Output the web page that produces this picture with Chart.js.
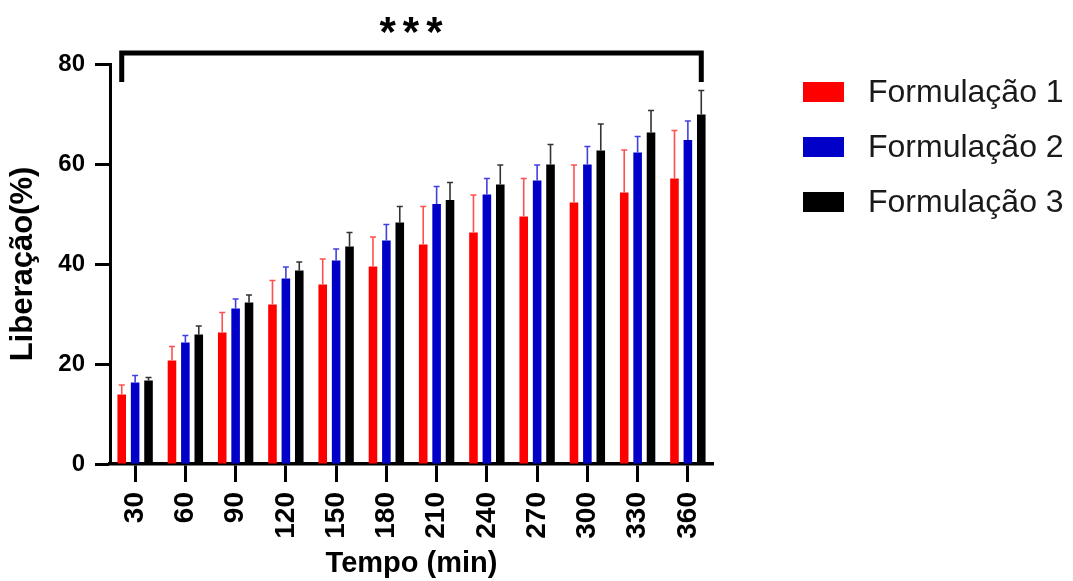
<!DOCTYPE html>
<html>
<head>
<meta charset="utf-8">
<script src="https://cdn.jsdelivr.net/npm/chart.js@4"></script>
<style>
  body { margin: 0; background: #fff; }
  canvas { display: block; }
</style>
</head>
<body>
<canvas id="chart" width="1073" height="581"></canvas>
<script>
// tempo (min)
const tempos = ["30","60","90","120","150","180","210","240","270","300","330","360"];

const seriesNames = ["Formulação 1", "Formulação 2", "Formulação 3"];
const seriesColors = ["#ff0000", "#0000c8", "#000000"];

// liberação media (%)
const form1 = [13.9, 20.7, 26.3, 31.9, 35.9, 39.5, 43.9, 46.3, 49.5, 52.3, 54.3, 57.1];
const form2 = [16.3, 24.3, 31.1, 37.1, 40.7, 44.7, 52.0, 53.9, 56.7, 59.9, 62.3, 64.8];
const form3 = [16.7, 25.9, 32.3, 38.7, 43.5, 48.3, 52.8, 55.9, 59.9, 62.7, 66.3, 69.9];

// desvio padrao (so a barra de cima aparece)
const sd1 = [1.9, 2.8, 4.0, 4.8, 5.1, 5.9, 7.6, 7.5, 7.6, 7.5, 8.5, 9.6];
const sd2 = [1.4, 1.4, 1.9, 2.3, 2.3, 3.2, 3.5, 3.2, 3.1, 3.6, 3.2, 3.8];
const sd3 = [0.6, 1.7, 1.5, 1.7, 2.8, 3.2, 3.5, 3.9, 4.0, 5.3, 4.4, 4.8];

const yTicks = [0, 20, 40, 60, 80];
const signif = "***";
const bracketTop = 82.2;   // em unidades do eixo y
const bracketLeg = 76.4;

const FONT = "'Liberation Sans', Arial, sans-serif";

/* ============================
   ERROR BARS (up only)
============================ */
const errorBars = {
    id: "errorBars",
    afterDatasetsDraw(chart) {
        const ctx = chart.ctx;
        const y = chart.scales.y;
        chart.data.datasets.forEach((ds, i) => {
            const meta = chart.getDatasetMeta(i);
            meta.data.forEach((bar, j) => {
                const top = y.getPixelForValue(ds.data[j] + ds.sd[j]);
                ctx.save();
                ctx.strokeStyle = ds.errColor;
                ctx.lineWidth = 1.6;
                ctx.beginPath();
                ctx.moveTo(bar.x, bar.y);
                ctx.lineTo(bar.x, top);
                ctx.moveTo(bar.x - 3, top);
                ctx.lineTo(bar.x + 3, top);
                ctx.stroke();
                ctx.restore();
            });
        });
    }
};

/* ============================
   BRACKET + *** + LEGEND
============================ */
const extras = {
    id: "extras",
    afterDraw(chart) {
        const ctx = chart.ctx;
        const y = chart.scales.y;
        const first = chart.getDatasetMeta(0).data[0];
        const last = chart.getDatasetMeta(2).data[tempos.length - 1];
        const yTop = y.getPixelForValue(bracketTop);
        const yLeg = y.getPixelForValue(bracketLeg);

        ctx.save();
        ctx.strokeStyle = "#000";
        ctx.lineWidth = 5;
        ctx.lineJoin = "miter";
        ctx.beginPath();
        ctx.moveTo(first.x, yLeg);
        ctx.lineTo(first.x, yTop);
        ctx.lineTo(last.x, yTop);
        ctx.lineTo(last.x, yLeg);
        ctx.stroke();

        ctx.fillStyle = "#000";
        ctx.font = "bold 42px " + FONT;
        ctx.textAlign = "center";
        ctx.textBaseline = "alphabetic";
        ctx.letterSpacing = "7px";
        ctx.fillText(signif, (first.x + last.x) / 2 + 3, 46);
        ctx.letterSpacing = "0px";

        // legenda
        ctx.textAlign = "left";
        ctx.textBaseline = "middle";
        ctx.font = "32px " + FONT;
        chart.data.datasets.forEach((ds, i) => {
            const cy = 92 + i * 55;
            ctx.fillStyle = ds.backgroundColor;
            ctx.fillRect(803, cy - 10, 41, 20);
            ctx.fillStyle = "#1a1a1a";
            ctx.fillText(ds.label, 868, cy + 1);
        });
        ctx.restore();
    }
};

const seriesValues = [form1, form2, form3];
const seriesSd = [sd1, sd2, sd3];
const errColors = ["#ff5050", "#4040e0", "#333333"];

let ctx = document.getElementById("chart").getContext("2d");

let chart = new Chart(ctx, {
    type: "bar",
    data: {
        labels: tempos,
        datasets: seriesNames.map((name, i) => ({
            label: name,
            data: seriesValues[i],
            sd: seriesSd[i],
            backgroundColor: seriesColors[i],
            errColor: errColors[i],
            borderWidth: 0,
            categoryPercentage: 0.8,
            barPercentage: 0.64
        }))
    },
    options: {
        responsive: false,
        animation: false,
        layout: { padding: { top: 64, right: 360, bottom: 0, left: 0 } },
        plugins: {
            legend: { display: false },
            tooltip: { enabled: false }
        },
        scales: {
            x: {
                afterFit: s => { s.height = 117; },
                grid: {
                    offset: false,
                    drawOnChartArea: false,
                    tickLength: 18,
                    tickWidth: 3,
                    color: "#000"
                },
                border: { display: true, width: 3.5, color: "#000" },
                ticks: {
                    color: "#000",
                    font: { family: FONT, size: 28, weight: "bold" },
                    minRotation: 90,
                    maxRotation: 90,
                    padding: 10
                },
                title: {
                    display: true,
                    text: "Tempo (min)",
                    color: "#000",
                    font: { family: FONT, size: 29, weight: "bold", lineHeight: 1.2 },
                    padding: 0
                }
            },
            y: {
                min: 0,
                max: 80,
                afterFit: s => { s.width = 110; },
                afterBuildTicks: s => { s.ticks = yTicks.map(v => ({ value: v })); },
                grid: {
                    drawOnChartArea: false,
                    tickLength: 15,
                    tickWidth: 3,
                    color: "#000"
                },
                border: { display: true, width: 3, color: "#000" },
                ticks: {
                    color: "#000",
                    font: { family: FONT, size: 24, weight: "bold" },
                    padding: 10
                },
                title: {
                    display: true,
                    text: "Liberação(%)",
                    color: "#000",
                    font: { family: FONT, size: 31, weight: "bold", lineHeight: 1.2 },
                    padding: 5
                }
            }
        }
    },
    plugins: [errorBars, extras]
});
</script>
</body>
</html>
